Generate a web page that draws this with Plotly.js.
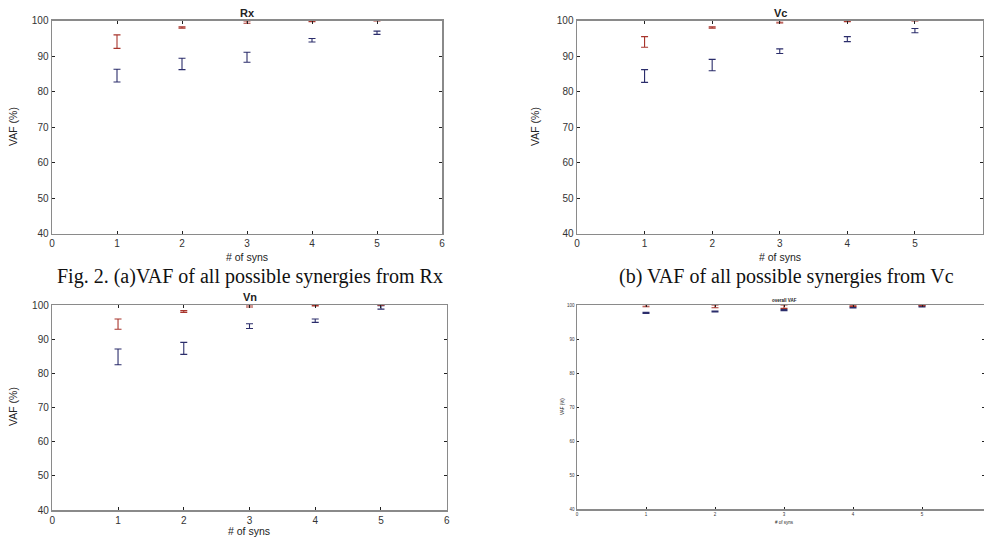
<!DOCTYPE html>
<html>
<head>
<meta charset="utf-8">
<script src="https://cdn.plot.ly/plotly-3.0.1.min.js"></script>
<style>
html,body{margin:0;padding:0;background:#fff;overflow:hidden;}
#chart{width:984px;height:537px;}
</style>
</head>
<body>
<div id="chart"></div>
<script>
// ---- data ----
const syns = [1, 2, 3, 4, 5];

const rxRedMean  = [94.1, 98.1, 99.6, 99.9, 100.0];
const rxRedErr   = [1.9, 0.2, 0.3, 0.15, 0.05];
const rxBlueMean = [84.5, 87.8, 89.7, 94.5, 96.6];
const rxBlueErr  = [1.8, 1.6, 1.4, 0.5, 0.45];

const vcRedMean  = [94.0, 98.1, 99.7, 99.9, 100.0];
const vcRedErr   = [1.5, 0.2, 0.3, 0.15, 0.05];
const vcBlueMean = [84.4, 87.5, 91.4, 94.8, 97.2];
const vcBlueErr  = [1.8, 1.6, 0.65, 0.7, 0.6];

const vnRedMean  = [94.4, 98.1, 99.7, 99.9, 100.0];
const vnRedErr   = [1.5, 0.25, 0.3, 0.15, 0.05];
const vnBlueMean = [84.8, 87.3, 93.8, 95.4, 99.3];
const vnBlueErr  = [2.3, 1.75, 0.7, 0.5, 0.5];

const ovRedMean  = [99.8, 99.6, 99.5, 99.8, 99.9];
const ovRedErr   = [0.3, 0.4, 0.5, 0.2, 0.1];
const ovBlueMean = [97.7, 98.1, 98.5, 99.2, 99.6];
const ovBlueErr  = [0.15, 0.15, 0.15, 0.1, 0.15];

const xTicks = [0, 1, 2, 3, 4, 5, 6];
const yTicks = [40, 50, 60, 70, 80, 90, 100];

const panelTitles = ["Rx", "Vc", "Vn", "overall VAF"];
const xLabel = "# of syns";
const yLabel = "VAF (%)";
const captionA = "Fig. 2. (a)VAF of all possible synergies from Rx";
const captionB = "(b) VAF of all possible synergies from Vc";

// ---- styling ----
const RED = "#a8352c";
const BLUE = "#2b2d6b";
const W = 984, H = 537;
const px = v => v / W;
const py = v => 1 - v / H;

function ebTrace(x, y, err, color, ax, capw) {
  return {
    type: "scatter", mode: "markers", x: x, y: y,
    xaxis: "x" + ax, yaxis: "y" + ax,
    marker: {size: 1, color: color, opacity: 0},
    error_y: {type: "data", array: err, visible: true, color: color, thickness: 1.1, width: capw},
    showlegend: false, hoverinfo: "skip"
  };
}

const data = [
  ebTrace(syns, rxBlueMean, rxBlueErr, BLUE, "", 3.5),
  ebTrace(syns, rxRedMean, rxRedErr, RED, "", 3.5),
  ebTrace(syns, vcBlueMean, vcBlueErr, BLUE, "2", 3.5),
  ebTrace(syns, vcRedMean, vcRedErr, RED, "2", 3.5),
  ebTrace(syns, vnBlueMean, vnBlueErr, BLUE, "3", 3.5),
  ebTrace(syns, vnRedMean, vnRedErr, RED, "3", 3.5),
  ebTrace(syns, ovBlueMean, ovBlueErr, BLUE, "4", 3.5),
  ebTrace(syns, ovRedMean, ovRedErr, RED, "4", 3.5)
];

function xAx(domain, anchor, range, fs) {
  return {
    domain: domain, anchor: anchor, range: range,
    tickmode: "array", tickvals: xTicks, ticktext: xTicks.map(String),
    ticks: "inside", ticklen: fs > 6 ? 3 : 2, tickcolor: "#222", tickwidth: 1,
    showline: true, linecolor: "#8a8a8a", linewidth: 1.5, mirror: "ticks",
    showgrid: false, zeroline: false,
    tickfont: {family: "Liberation Sans, Arial, sans-serif", size: fs, color: "#333"},
    fixedrange: true
  };
}
function yAx(domain, anchor, fs) {
  return {
    domain: domain, anchor: anchor, range: [40, 100],
    tickmode: "array", tickvals: yTicks, ticktext: yTicks.map(String),
    ticks: "inside", ticklen: fs > 6 ? 3 : 2, tickcolor: "#222", tickwidth: 1,
    showline: true, linecolor: "#8a8a8a", linewidth: 1.5, mirror: "ticks",
    showgrid: false, zeroline: false,
    tickfont: {family: "Liberation Sans, Arial, sans-serif", size: fs, color: "#333"},
    fixedrange: true
  };
}

const p1 = {x: [52, 442], y: [20.7, 233.5]};
const p2 = {x: [577, 982.5], y: [20.7, 233.5]};
const p3 = {x: [52.3, 446.7], y: [305, 510]};
const p4 = {x: [577, 984], y: [305, 509]};
const dx = p => [px(p.x[0]), px(p.x[1])];
const dy = p => [py(p.y[1]), py(p.y[0])];

const layout = {
  width: W, height: H,
  margin: {l: 0, r: 0, t: 0, b: 0},
  paper_bgcolor: "#fff", plot_bgcolor: "#fff",
  showlegend: false,
  xaxis: xAx(dx(p1), "y", [0, 6], 10),
  yaxis: yAx(dy(p1), "x", 10),
  xaxis2: xAx(dx(p2), "y2", [0, 6], 10),
  yaxis2: yAx(dy(p2), "x2", 10),
  xaxis3: xAx(dx(p3), "y3", [0, 6], 10),
  yaxis3: yAx(dy(p3), "x3", 10),
  xaxis4: xAx(dx(p4), "y4", [0, (984 - 577) / 69], 4.5),
  yaxis4: yAx(dy(p4), "x4", 4.5),
  annotations: []
};

const sans = "Liberation Sans, Arial, sans-serif";
const serif = "Liberation Serif, Times New Roman, serif";
function ann(text, x, y, size, opts) {
  return Object.assign({
    text: text, xref: "paper", yref: "paper", x: px(x), y: py(y),
    xanchor: "center", yanchor: "middle", showarrow: false,
    font: {family: sans, size: size, color: "#222"}
  }, opts || {});
}
const A = layout.annotations;
// panel titles
A.push(ann("<b>" + panelTitles[0] + "</b>", 247, 13, 11));
A.push(ann("<b>" + panelTitles[1] + "</b>", 780, 13, 11));
A.push(ann("<b>" + panelTitles[2] + "</b>", 250, 297, 11));
A.push(ann("<b>" + panelTitles[3] + "</b>", 784, 300, 4.5));
// x labels
A.push(ann(xLabel, 247, 257, 10.5));
A.push(ann(xLabel, 780, 257, 10.5));
A.push(ann(xLabel, 249, 531, 10.5));
A.push(ann(xLabel, 784, 522, 4.5));
// y labels
A.push(ann(yLabel, 13, 127, 10.5, {textangle: -90}));
A.push(ann(yLabel, 535, 127, 10.5, {textangle: -90}));
A.push(ann(yLabel, 13, 407, 10.5, {textangle: -90}));
A.push(ann(yLabel, 562, 407, 4.5, {textangle: -90}));
// captions
A.push(ann(captionA, 250, 276, 20, {font: {family: serif, size: 20, color: "#111"}}));
A.push(ann(captionB, 786, 276, 20, {font: {family: serif, size: 20, color: "#111"}}));

Plotly.newPlot("chart", data, layout, {displayModeBar: false, staticPlot: true});
</script>
</body>
</html>
